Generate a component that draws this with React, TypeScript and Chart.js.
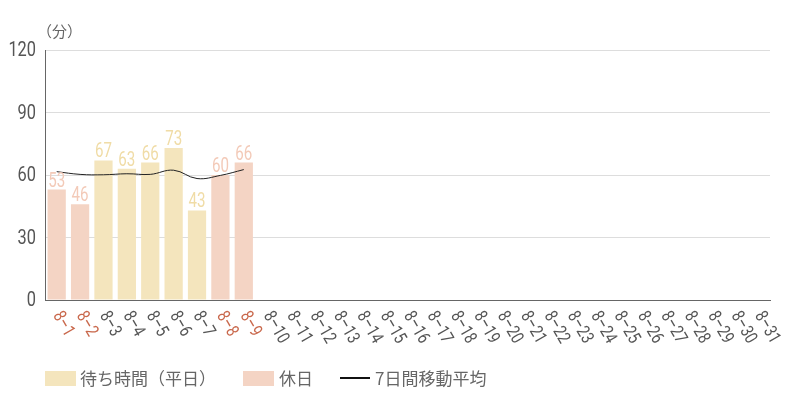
import { useEffect, useRef } from 'react';
import { Chart, registerables } from 'chart.js';

Chart.register(...registerables);

// 日付ラベル（8月）
const days: string[] = [
  '8-1', '8-2', '8-3', '8-4', '8-5', '8-6', '8-7', '8-8', '8-9', '8-10',
  '8-11', '8-12', '8-13', '8-14', '8-15', '8-16', '8-17', '8-18', '8-19', '8-20',
  '8-21', '8-22', '8-23', '8-24', '8-25', '8-26', '8-27', '8-28', '8-29', '8-30', '8-31',
];
const holidayIdx: number[] = [0, 1, 7, 8];

const weekdayWait: (number | null)[] = [null, null, 67, 63, 66, 73, 43, null, null];
const holidayWait: (number | null)[] = [53, 46, null, null, null, null, null, 60, 66];
const movingAvg: number[] = [61.6, 60.3, 60.1, 60.6, 60.3, 62.3, 58.3, 59.8, 62.6];

const yTicks: number[] = [0, 30, 60, 90, 120];

const SANS = 'Roboto, sans-serif';
const JP = '"Noto Sans CJK JP", sans-serif';

const WEEKDAY_COLOR = '#f4e5bd';
const HOLIDAY_COLOR = '#f4d4c4';

// 細字体の代わりに横方向を縮めて描く
function narrowText(ctx: CanvasRenderingContext2D, text: string, x: number, y: number, sx: number) {
  ctx.save();
  ctx.translate(x, y);
  ctx.scale(sx, 1);
  ctx.fillText(text, 0, 0);
  ctx.restore();
}

// 棒の上の数値
const valueLabels = {
  id: 'valueLabels',
  afterDatasetsDraw(chart: Chart) {
    const ctx = chart.ctx;
    ctx.save();
    ctx.font = `21px ${SANS}`;
    ctx.textAlign = 'center';
    ctx.textBaseline = 'alphabetic';
    [0, 1].forEach((di) => {
      const meta = chart.getDatasetMeta(di);
      const ds = chart.data.datasets[di];
      ctx.fillStyle = di === 0 ? '#f0dca6' : '#f3cab8';
      meta.data.forEach((el: any, i: number) => {
        const v = ds.data[i] as number | null;
        if (v == null) return;
        narrowText(ctx, String(v), el.x, el.y - 3, 0.72);
      });
    });
    ctx.restore();
  },
};

// 軸ラベル（縦軸の数値・斜めの日付）
const axisLabels = {
  id: 'axisLabels',
  afterDraw(chart: Chart) {
    const ctx = chart.ctx;
    const x = chart.scales.x;
    const y = chart.scales.y;
    ctx.save();
    ctx.font = `21px ${SANS}`;
    ctx.fillStyle = '#555555';
    ctx.textAlign = 'right';
    ctx.textBaseline = 'middle';
    yTicks.forEach((v) => {
      narrowText(ctx, String(v), x.left - 9, y.getPixelForValue(v) + 1, 0.78);
    });

    ctx.font = `18px ${SANS}`;
    ctx.textAlign = 'left';
    days.forEach((d, i) => {
      const px = x.getPixelForTick(i);
      ctx.save();
      ctx.translate(px, x.top + 13);
      ctx.rotate(Math.PI / 3);
      ctx.scale(0.8, 1);
      ctx.fillStyle = holidayIdx.includes(i) ? '#c9684c' : '#555555';
      ctx.fillText(d.replace('-', '–'), 0, 0);
      ctx.restore();
    });

    // 単位
    ctx.font = `15px ${JP}`;
    ctx.fillStyle = '#666666';
    ctx.textAlign = 'left';
    ctx.textBaseline = 'middle';
    ctx.fillText('（分）', 37, 31);
    ctx.restore();
  },
};

export default function App() {
  const chartRef = useRef<HTMLCanvasElement>(null);
  const chartInstance = useRef<Chart | null>(null);

  useEffect(() => {
    if (!chartRef.current) return;
    if (chartInstance.current) chartInstance.current.destroy();

    chartInstance.current = new Chart(chartRef.current, {
      type: 'bar',
      data: {
        labels: days,
        datasets: [
          {
            label: '待ち時間（平日）',
            data: weekdayWait,
            backgroundColor: WEEKDAY_COLOR,
            skipNull: true,
            order: 2,
          } as any,
          {
            label: '休日',
            data: holidayWait,
            backgroundColor: HOLIDAY_COLOR,
            skipNull: true,
            order: 2,
          } as any,
          {
            type: 'line',
            label: '7日間移動平均',
            data: movingAvg,
            borderColor: '#222222',
            borderWidth: 1,
            pointRadius: 0,
            tension: 0.4,
            fill: false,
            order: 1,
          },
        ],
      },
      options: {
        responsive: false,
        animation: false,
        layout: { padding: { top: 50, right: 30, bottom: 0, left: 0 } },
        datasets: {
          bar: { categoryPercentage: 1, barPercentage: 0.78 },
        },
        plugins: {
          legend: { display: false },
          tooltip: { enabled: false },
        },
        scales: {
          x: {
            grid: { display: false },
            border: { color: '#666666', width: 1 },
            ticks: { display: false },
            afterFit: (s: any) => {
              s.height = 100;
            },
          },
          y: {
            min: 0,
            max: 120,
            afterBuildTicks: (s: any) => {
              s.ticks = yTicks.map((v) => ({ value: v }));
            },
            grid: { color: '#dddddd', drawTicks: false },
            border: { color: '#666666', width: 1 },
            ticks: { display: false },
            afterFit: (s: any) => {
              s.width = 45;
            },
          },
        },
      },
      plugins: [valueLabels, axisLabels],
    });

    return () => {
      if (chartInstance.current) {
        chartInstance.current.destroy();
        chartInstance.current = null;
      }
    };
  }, []);

  const legendText = { fontFamily: JP, fontSize: 17, color: '#666666', lineHeight: '22px' };

  return (
    <div style={{ position: 'absolute', left: 0, top: 0, width: 800, height: 400, background: '#ffffff' }}>
      <canvas ref={chartRef} width={800} height={400}></canvas>
      <div style={{ position: 'absolute', left: 45, top: 367, display: 'flex', alignItems: 'center', height: 22 }}>
        <span style={{ width: 31, height: 15, background: WEEKDAY_COLOR, marginRight: 4 }} />
        <span style={legendText}>待ち時間（平日）</span>
        <span style={{ width: 31, height: 15, background: HOLIDAY_COLOR, marginLeft: 27, marginRight: 5 }} />
        <span style={legendText}>休日</span>
        <span style={{ width: 30, height: 1.5, background: '#111111', marginLeft: 27, marginRight: 5 }} />
        <span style={legendText}>7日間移動平均</span>
      </div>
    </div>
  );
}
